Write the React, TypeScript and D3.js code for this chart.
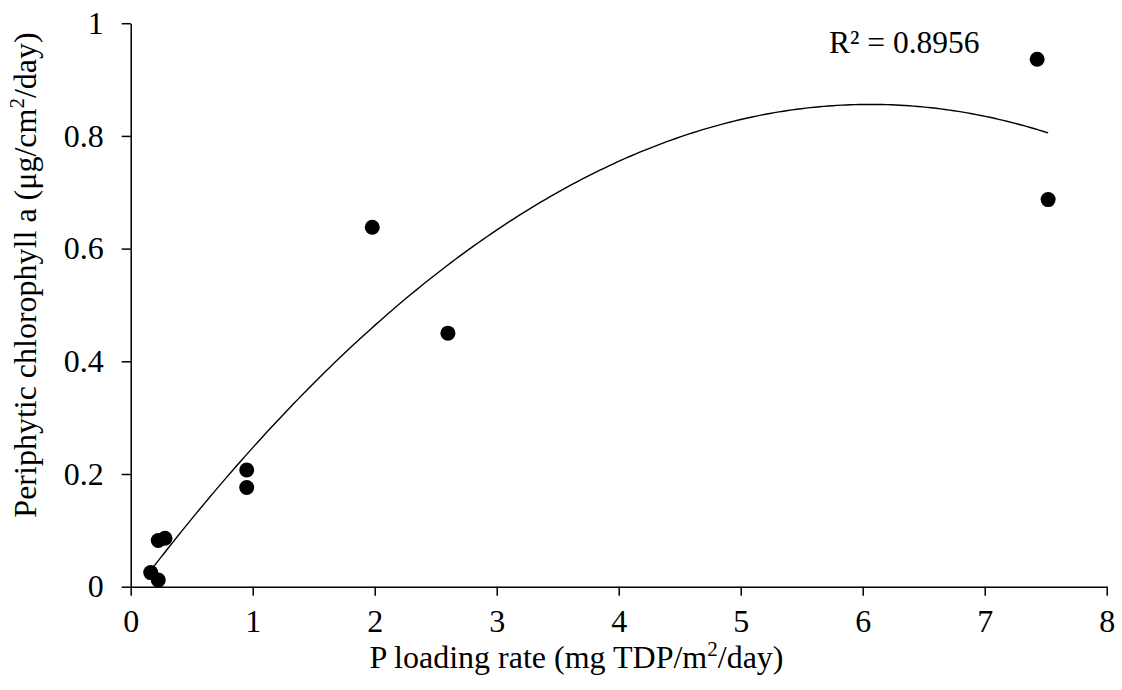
import React, { useEffect, useRef } from "react";
import * as d3 from "d3";

const loadX: number[] = [0.164, 0.226, 0.226, 0.281, 0.951, 0.951, 1.98, 2.6, 7.43, 7.52];
const chlY: number[] = [0.025, 0.012, 0.082, 0.086, 0.207, 0.176, 0.638, 0.45, 0.936, 0.687];
const xTicks: number[] = [0, 1, 2, 3, 4, 5, 6, 7, 8];
const yTicks: number[] = [0, 0.2, 0.4, 0.6, 0.8, 1];
const r2Label = "R² = 0.8956";

const W = 1122;
const H = 690;
const M = { left: 130.7, right: 1106.7, top: 23.2, bottom: 586.7 };
const FONT = "'Liberation Serif', 'Times New Roman', serif";

// least-squares quadratic fit
function quadFit(xs: number[], ys: number[]): [number, number, number] {
  const n = xs.length;
  let s = [0, 0, 0, 0, 0];
  let t = [0, 0, 0];
  for (let i = 0; i < n; i++) {
    const x = xs[i], y = ys[i];
    for (let k = 0; k <= 4; k++) s[k] += Math.pow(x, k);
    for (let k = 0; k <= 2; k++) t[k] += y * Math.pow(x, k);
  }
  const A = [
    [s[0], s[1], s[2], t[0]],
    [s[1], s[2], s[3], t[1]],
    [s[2], s[3], s[4], t[2]],
  ];
  for (let i = 0; i < 3; i++) {
    let p = i;
    for (let r = i + 1; r < 3; r++) if (Math.abs(A[r][i]) > Math.abs(A[p][i])) p = r;
    [A[i], A[p]] = [A[p], A[i]];
    for (let r = 0; r < 3; r++) {
      if (r === i) continue;
      const f = A[r][i] / A[i][i];
      for (let c = i; c < 4; c++) A[r][c] -= f * A[i][c];
    }
  }
  return [A[0][3] / A[0][0], A[1][3] / A[1][1], A[2][3] / A[2][2]];
}

export default function App() {
  const ref = useRef<SVGSVGElement>(null);
  useEffect(() => {
    const svg = d3.select(ref.current);
    svg.selectAll("*").remove();
    const x = d3.scaleLinear().domain([0, 8]).range([M.left, M.right]);
    const y = d3.scaleLinear().domain([0, 1]).range([M.bottom, M.top]);

    // axes
    const xAxis = d3.axisBottom(x).tickValues(xTicks).tickSize(9).tickSizeOuter(0).tickPadding(14).tickFormat(d3.format("d") as any);
    const gx = svg.append("g").attr("transform", `translate(0,${M.bottom})`).call(xAxis);
    gx.select(".domain").attr("stroke", "#000").attr("stroke-width", 1.5);
    gx.selectAll(".tick line").attr("stroke", "#000").attr("stroke-width", 1.5);
    gx.selectAll(".tick text").attr("font-family", FONT).attr("font-size", 32).attr("fill", "#000");

    const yAxis = d3.axisLeft(y).tickValues(yTicks).tickSize(9).tickSizeOuter(0).tickPadding(18).tickFormat((d: any) => (d === 0 || d === 1 ? String(d) : d3.format(".1f")(d)));
    const gy = svg.append("g").attr("transform", `translate(${M.left},0)`).call(yAxis);
    gy.select(".domain").attr("stroke", "#000").attr("stroke-width", 1.5);
    gy.selectAll(".tick line").attr("stroke", "#000").attr("stroke-width", 1.5);
    gy.selectAll(".tick text").attr("font-family", FONT).attr("font-size", 32).attr("fill", "#000");

    // trendline
    const [c0, c1, c2] = quadFit(loadX, chlY);
    const x0 = d3.min(loadX)!;
    const x1 = d3.max(loadX)!;
    const pts = d3.range(0, 201).map((i) => {
      const xv = x0 + ((x1 - x0) * i) / 200;
      return [xv, c0 + c1 * xv + c2 * xv * xv] as [number, number];
    });
    svg.append("path")
      .attr("d", d3.line<[number, number]>().x((d) => x(d[0])).y((d) => y(d[1]))(pts)!)
      .attr("fill", "none").attr("stroke", "#000").attr("stroke-width", 1.4);

    // points
    svg.append("g").selectAll("circle").data(loadX.map((v, i) => [v, chlY[i]]))
      .join("circle")
      .attr("cx", (d) => x(d[0])).attr("cy", (d) => y(d[1])).attr("r", 7.5).attr("fill", "#000");

    // R2 label
    svg.append("text").attr("x", 829).attr("y", 53).attr("font-family", FONT).attr("font-size", 31.5).attr("fill", "#000").text(r2Label);

    // x title
    const xt = svg.append("text").attr("x", 576.5).attr("y", 668).attr("text-anchor", "middle").attr("font-family", FONT).attr("font-size", 32).attr("fill", "#000");
    xt.append("tspan").text("P loading rate (mg TDP/m");
    xt.append("tspan").attr("font-size", 21).attr("dy", -12).text("2");
    xt.append("tspan").attr("dy", 12).text("/day)");

    // y title
    const yt = svg.append("text").attr("transform", `translate(36,275) rotate(-90)`).attr("text-anchor", "middle").attr("font-family", FONT).attr("font-size", 32).attr("fill", "#000");
    yt.append("tspan").text("Periphytic chlorophyll a (μg/cm");
    yt.append("tspan").attr("font-size", 21).attr("dy", -12).text("2");
    yt.append("tspan").attr("dy", 12).text("/day)");
  }, []);
  return (
    <svg ref={ref} width={W} height={H} style={{ position: "absolute", left: 0, top: 0, background: "#fff" }} />
  );
}
